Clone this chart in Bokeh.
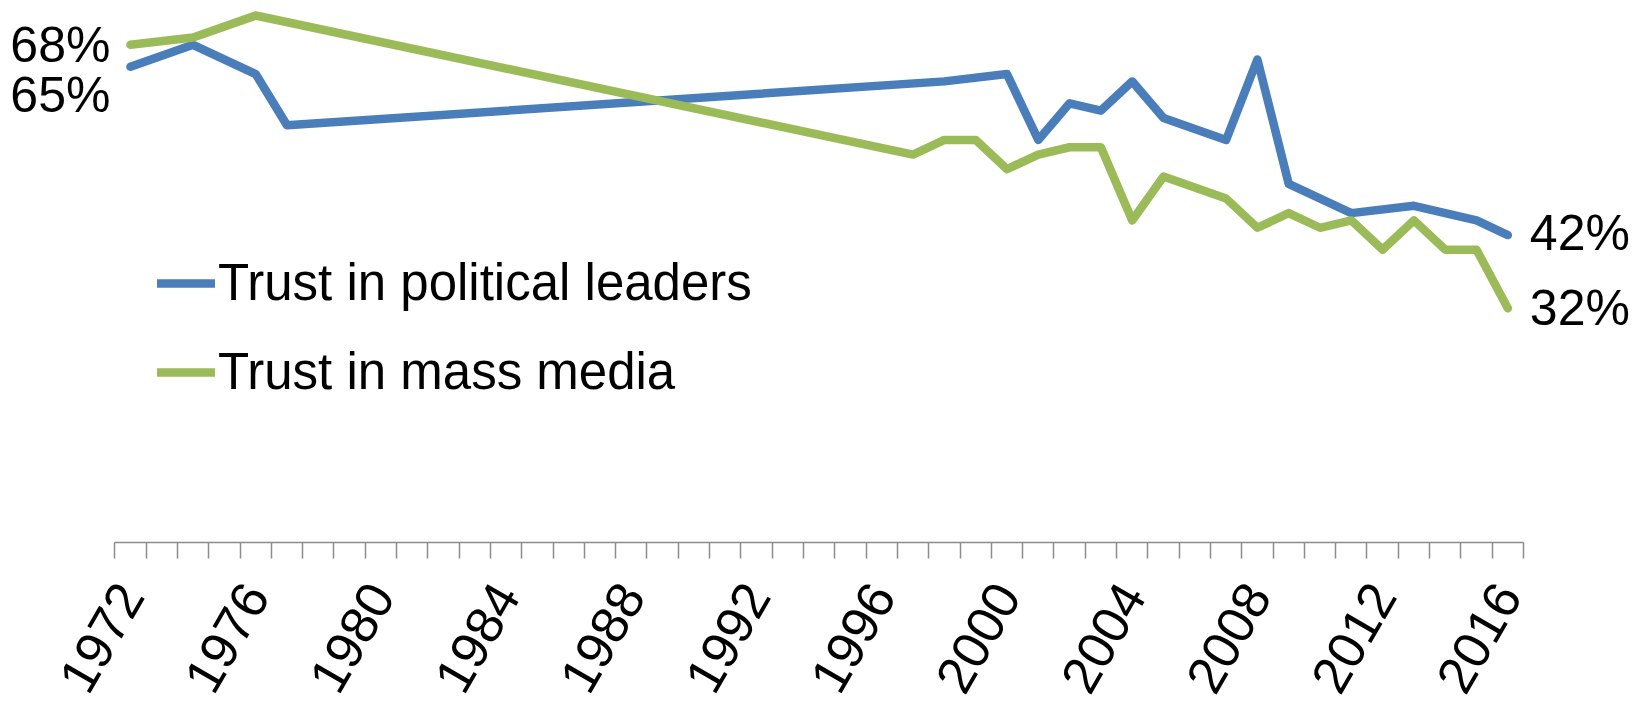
import math
from bokeh.plotting import figure
from bokeh.models import Range1d, FixedTicker, Legend, LegendItem
from bokeh.core.properties import value
from bokeh.embed import file_html
from bokeh.resources import INLINE

# ---- data ----
political_years = [1972, 1974, 1976, 1977, 1998, 2000, 2001, 2002, 2003, 2004, 2005,
                   2007, 2008, 2009, 2011, 2013, 2015, 2016]
political_vals = [65, 68, 64, 57, 63, 64, 55, 60, 59, 63, 58, 55, 66, 49, 45, 46, 44, 42]

media_years = [1972, 1974, 1976, 1997, 1998, 1999, 2000, 2001, 2002, 2003, 2004, 2005,
               2007, 2008, 2009, 2010, 2011, 2012, 2013, 2014, 2015, 2016]
media_vals = [68, 69, 72, 53, 55, 55, 51, 53, 54, 54, 44, 50, 47, 43, 45, 43, 44, 40,
              44, 40, 40, 32]

category_years = list(range(1972, 2017))
label_years = category_years[::4]
series_names = ["Trust in political leaders", "Trust in mass media"]

BLUE = "#4A7EBB"
GREEN = "#9BBB59"
FONT = "Liberation Sans"

boundaries = [y - 0.5 for y in category_years] + [category_years[-1] + 0.5]

p = figure(width=1650, height=708, output_backend="svg", toolbar_location=None,
           x_range=Range1d(1967.849, 2020.557), y_range=Range1d(0, 74.05),
           y_axis_location=None, min_border_left=0, min_border_right=0,
           min_border_top=0, min_border_bottom=165)
p.outline_line_color = None
p.xgrid.visible = False
p.ygrid.visible = False
p.background_fill_color = "white"
p.border_fill_color = "white"

r1 = p.line(political_years, political_vals, line_color=BLUE, line_width=8.5,
            line_cap="round", line_join="round")
r2 = p.line(media_years, media_vals, line_color=GREEN, line_width=8.5,
            line_cap="round", line_join="round")

# end labels
common = dict(text_font=value(FONT), text_font_size="50px", text_color="black",
              text_baseline="middle")
p.text(x=[media_years[0]], y=[media_vals[0]], text=[f"{media_vals[0]}%"],
       text_align="right", x_offset=-20, y_offset=0, **common)
p.text(x=[political_years[0]], y=[political_vals[0]], text=[f"{political_vals[0]}%"],
       text_align="right", x_offset=-20, y_offset=28, **common)
p.text(x=[political_years[-1]], y=[political_vals[-1]], text=[f"{political_vals[-1]}%"],
       text_align="left", x_offset=22, y_offset=-2, **common)
p.text(x=[media_years[-1]], y=[media_vals[-1]], text=[f"{media_vals[-1]}%"],
       text_align="left", x_offset=22, y_offset=0, **common)

# x axis
ax = p.xaxis[0]
ax.ticker = FixedTicker(ticks=label_years, minor_ticks=boundaries)
ax.bounds = (boundaries[0], boundaries[-1])
ax.major_label_overrides = {y: str(y) for y in label_years}
ax.major_tick_line_color = None
ax.major_tick_in = 0
ax.major_tick_out = 0
ax.minor_tick_in = 0
ax.minor_tick_out = 16
ax.minor_tick_line_color = "#8c8c8c"
ax.minor_tick_line_width = 1.5
ax.axis_line_color = "#8c8c8c"
ax.axis_line_width = 1.5
ax.major_label_orientation = math.pi / 3
ax.major_label_text_font = FONT
ax.major_label_text_font_size = "52px"
ax.major_label_text_color = "black"
ax.major_label_standoff = 29

legend = Legend(items=[LegendItem(label=series_names[0], renderers=[r1]),
                       LegendItem(label=series_names[1], renderers=[r2])],
                location=(157, 141), border_line_color=None, background_fill_alpha=0,
                padding=0, margin=0, glyph_width=58, glyph_height=56, label_height=56,
                spacing=30, label_standoff=3, label_text_font=FONT,
                label_text_font_size="51px", label_text_color="black")
p.add_layout(legend)

open("out.html", "w").write(file_html(p, INLINE))
